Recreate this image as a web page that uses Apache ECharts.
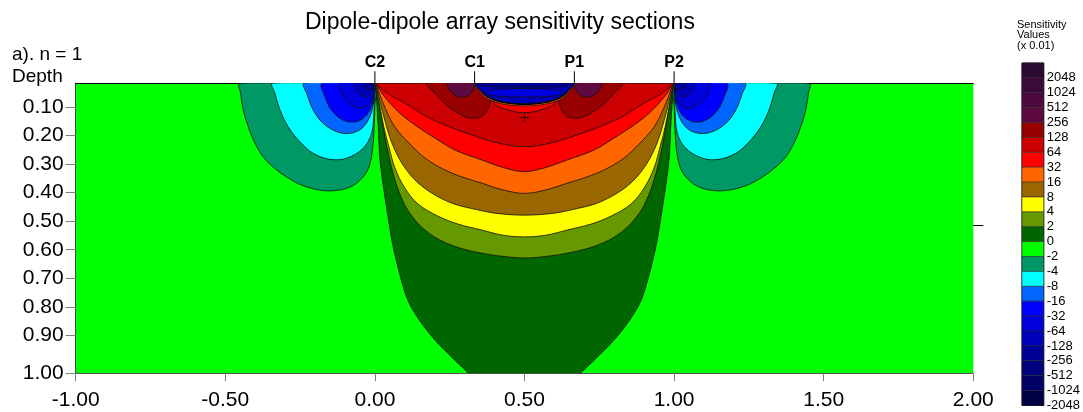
<!DOCTYPE html>
<html><head><meta charset="utf-8">
<script src="https://cdn.jsdelivr.net/npm/echarts@6/dist/echarts.min.js"></script>
<style>html,body{margin:0;padding:0;background:#fff}#c{width:1083px;height:412px}</style>
</head><body><div id="c"></div>
<script>
// ---------- axis / legend data ----------
const depthTickValues = [0.1,0.2,0.3,0.4,0.5,0.6,0.7,0.8,0.9,1.032];
const depthTickLabels = ['0.10','0.20','0.30','0.40','0.50','0.60','0.70','0.80','0.90','1.00'];
const depthTop = 0.018, depthBottom = 1.032;
const rightTickDepth = [0.514];
const levelLabels = ['2048','1024','512','256','128','64','32','16','8','4','2','0','-2','-4','-8','-16','-32','-64','-128','-256','-512','-1024','-2048'];
const levelColors = ['#2a0a30','#3c0a3a','#4c0a40','#5c0a40','#990000','#cc0000','#ff0000','#ff6600','#996600','#ffff00','#669900','#006600','#00ff00','#009966','#00ffff','#0066ff','#0000ff','#0000dd','#0000bb','#000099','#000080','#000066','#000044'];
const electrodeNames = ['C2','C1','P1','P2'];
const electrodeX = [0, 0.3333, 0.6667, 1];
const maxMarker = [[0.5, 0.138]];

// ---------- contour regions (x, depth) ----------
const negTealL = [[-0.451,0.018],[-0.449,0.052],[-0.440,0.112],[-0.423,0.171],[-0.401,0.227],[-0.373,0.276],[-0.340,0.311],[-0.295,0.346],[-0.240,0.376],[-0.173,0.393],[-0.117,0.391],[-0.074,0.376],[-0.040,0.346],[-0.020,0.311],[-0.008,0.251],[-0.003,0.181],[0,0.094],[0,0.018]];
const negTealR = [[1.451,0.018],[1.449,0.052],[1.440,0.112],[1.423,0.171],[1.401,0.227],[1.373,0.276],[1.340,0.311],[1.295,0.346],[1.240,0.376],[1.173,0.393],[1.117,0.391],[1.074,0.376],[1.040,0.346],[1.020,0.311],[1.008,0.251],[1.003,0.181],[1,0.094],[1,0.018]];
const negCyanL = [[-0.342,0.018],[-0.334,0.053],[-0.317,0.112],[-0.290,0.170],[-0.251,0.222],[-0.206,0.263],[-0.150,0.284],[-0.095,0.280],[-0.039,0.245],[-0.011,0.193],[-0.003,0.112],[0,0.030],[0,0.018]];
const negCyanR = [[1.342,0.018],[1.334,0.053],[1.317,0.112],[1.290,0.170],[1.251,0.222],[1.206,0.263],[1.150,0.284],[1.095,0.280],[1.039,0.245],[1.011,0.193],[1.003,0.112],[1,0.030],[1,0.018]];
const neg8L = [[-0.237,0.018],[-0.228,0.053],[-0.206,0.112],[-0.173,0.158],[-0.128,0.187],[-0.084,0.193],[-0.044,0.176],[-0.017,0.135],[-0.003,0.077],[0,0.024],[0,0.018]];
const neg8R = [[1.237,0.018],[1.228,0.053],[1.206,0.112],[1.173,0.158],[1.128,0.187],[1.084,0.193],[1.044,0.176],[1.017,0.135],[1.003,0.077],[1,0.024],[1,0.018]];
const neg16L = [[-0.176,0.018],[-0.167,0.065],[-0.145,0.112],[-0.106,0.147],[-0.061,0.152],[-0.028,0.129],[-0.008,0.088],[0,0.030],[0,0.018]];
const neg16R = [[1.176,0.018],[1.167,0.065],[1.145,0.112],[1.106,0.147],[1.061,0.152],[1.028,0.129],[1.008,0.088],[1,0.030],[1,0.018]];
const neg32L = [[-0.117,0.018],[-0.106,0.065],[-0.078,0.094],[-0.044,0.106],[-0.017,0.088],[-0.003,0.053],[0,0.024],[0,0.018]];
const neg32R = [[1.117,0.018],[1.106,0.065],[1.078,0.094],[1.044,0.106],[1.017,0.088],[1.003,0.053],[1,0.024],[1,0.018]];
const neg64L = [[-0.067,0.018],[-0.056,0.048],[-0.033,0.065],[-0.011,0.053],[0,0.024],[0,0.018]];
const neg64R = [[1.067,0.018],[1.056,0.048],[1.033,0.065],[1.011,0.053],[1,0.024],[1,0.018]];
const neg128L = [[-0.041,0.018],[-0.028,0.036],[-0.008,0.039],[0,0.021],[0,0.018]];
const neg128R = [[1.041,0.018],[1.028,0.036],[1.008,0.039],[1,0.021],[1,0.018]];

const pos0 = [[0,0.018],[0.003,0.042],[0.010,0.147],[0.017,0.286],[0.030,0.391],[0.043,0.479],[0.060,0.584],[0.084,0.689],[0.110,0.776],[0.144,0.839],[0.184,0.895],[0.215,0.932],[0.245,0.963],[0.284,1.003],[0.333,1.04],[0.667,1.04],[0.716,1.003],[0.755,0.963],[0.785,0.932],[0.816,0.895],[0.856,0.839],[0.890,0.776],[0.916,0.689],[0.940,0.584],[0.957,0.479],[0.970,0.391],[0.983,0.286],[0.990,0.147],[0.997,0.042],[1,0.018]];
const pos2 = [[0,0.018],[0.003,0.024],[0.020,0.122],[0.040,0.241],[0.067,0.356],[0.100,0.444],[0.134,0.496],[0.167,0.531],[0.217,0.566],[0.284,0.594],[0.357,0.612],[0.418,0.622],[0.5,0.629],[0.582,0.622],[0.643,0.612],[0.716,0.594],[0.783,0.566],[0.833,0.531],[0.866,0.496],[0.900,0.444],[0.933,0.356],[0.960,0.241],[0.980,0.122],[0.997,0.024],[1,0.018]];
const pos4 = [[0,0.018],[0.003,0.024],[0.030,0.171],[0.047,0.241],[0.067,0.314],[0.100,0.384],[0.144,0.440],[0.210,0.482],[0.277,0.510],[0.357,0.531],[0.428,0.549],[0.5,0.555],[0.572,0.549],[0.643,0.531],[0.723,0.510],[0.790,0.482],[0.856,0.440],[0.900,0.384],[0.933,0.314],[0.953,0.241],[0.970,0.171],[0.997,0.024],[1,0.018]];
const pos8 = [[0,0.018],[0.003,0.024],[0.033,0.147],[0.057,0.227],[0.090,0.297],[0.134,0.356],[0.190,0.402],[0.257,0.437],[0.324,0.456],[0.401,0.472],[0.5,0.479],[0.599,0.472],[0.676,0.456],[0.743,0.437],[0.810,0.402],[0.866,0.356],[0.910,0.297],[0.943,0.227],[0.967,0.147],[0.997,0.024],[1,0.018]];
const pos16 = [[0,0.018],[0.003,0.021],[0.033,0.101],[0.067,0.171],[0.114,0.227],[0.167,0.279],[0.234,0.321],[0.301,0.349],[0.357,0.367],[0.418,0.388],[0.5,0.403],[0.582,0.388],[0.643,0.367],[0.699,0.349],[0.766,0.321],[0.833,0.279],[0.886,0.227],[0.933,0.171],[0.967,0.101],[0.997,0.021],[1,0.018]];
const pos32 = [[0,0.018],[0.003,0.021],[0.033,0.066],[0.080,0.119],[0.134,0.164],[0.200,0.209],[0.267,0.251],[0.357,0.286],[0.434,0.314],[0.5,0.327],[0.566,0.314],[0.643,0.286],[0.733,0.251],[0.800,0.209],[0.866,0.164],[0.920,0.119],[0.967,0.066],[0.997,0.021],[1,0.018]];
const pos64 = [[0,0.018],[0.003,0.021],[0.050,0.059],[0.100,0.087],[0.170,0.133],[0.244,0.168],[0.317,0.196],[0.401,0.224],[0.5,0.240],[0.599,0.224],[0.683,0.196],[0.756,0.168],[0.830,0.133],[0.900,0.087],[0.950,0.059],[0.997,0.021],[1,0.018]];
const lobe128L = [[0.174,0.018],[0.201,0.053],[0.246,0.100],[0.302,0.135],[0.334,0.140],[0.357,0.134],[0.374,0.115],[0.384,0.087],[0.384,0.066],[0.364,0.049],[0.347,0.031],[0.337,0.018]];
const lobe128R = [[0.826,0.018],[0.799,0.053],[0.754,0.100],[0.698,0.135],[0.666,0.140],[0.643,0.134],[0.626,0.115],[0.616,0.087],[0.616,0.066],[0.636,0.049],[0.653,0.031],[0.663,0.018]];
const lobe256L = [[0.242,0.018],[0.251,0.042],[0.271,0.061],[0.294,0.066],[0.314,0.059],[0.327,0.042],[0.334,0.018]];
const lobe256R = [[0.758,0.018],[0.749,0.042],[0.729,0.061],[0.706,0.066],[0.686,0.059],[0.673,0.042],[0.666,0.018]];
const crescent = [[0.380,0.060],[0.401,0.091],[0.441,0.110],[0.5,0.121],[0.559,0.110],[0.599,0.091],[0.620,0.060],[0.615,0.018],[0.385,0.018]];
const rimOrange = [[0.333,0.018],[0.352,0.050],[0.381,0.075],[0.430,0.091],[0.5,0.097],[0.570,0.091],[0.619,0.075],[0.648,0.050],[0.667,0.018]];
const rimBlack = [[0.335,0.018],[0.354,0.048],[0.383,0.072],[0.431,0.088],[0.5,0.094],[0.569,0.088],[0.617,0.072],[0.646,0.048],[0.665,0.018]];
const negPocket = [[0.337,0.018],[0.356,0.045],[0.384,0.068],[0.431,0.083],[0.5,0.089],[0.569,0.083],[0.616,0.068],[0.644,0.045],[0.663,0.018]];
const negPocketLens = [[0.37,0.050],[0.40,0.040],[0.5,0.036],[0.60,0.040],[0.63,0.050],[0.60,0.062],[0.5,0.066],[0.40,0.062]];
const negPocketTop = [[0.345,0.018],[0.655,0.018],[0.64,0.028],[0.5,0.031],[0.36,0.028]];

// [points, colour index]
const regions = [
  [negTealL,13],[negTealR,13],[negCyanL,14],[negCyanR,14],[neg8L,15],[neg8R,15],
  [neg16L,16],[neg16R,16],[neg32L,17],[neg32R,17],[neg64L,18],[neg64R,18],[neg128L,19],[neg128R,19],
  [pos0,11],[pos2,10],[pos4,9],[pos8,8],[pos16,7],[pos32,6],[pos64,5],
  [lobe128L,4],[lobe128R,4],[lobe256L,3],[lobe256R,3],
  [crescent,6],[rimOrange,7],[rimBlack,-1],[negPocket,18],[negPocketLens,17],[negPocketTop,19]
];

const FONT = "'Liberation Sans', Arial, sans-serif";
const chart = echarts.init(document.getElementById('c'), null, {renderer:'canvas', width:1083, height:412});

chart.setOption({
  animation: false,
  backgroundColor: '#ffffff',
  title: {
    text: 'Dipole-dipole array sensitivity sections',
    left: 300, top: 6,
    textStyle: {fontFamily: FONT, fontSize: 23, fontWeight: 'normal', color: '#000'}
  },
  graphic: [
    {type:'text', left: 12, top: 45, style:{text:'a). n = 1', font:"19px 'Liberation Sans', Arial", fill:'#000'}},
    {type:'text', left: 12, top: 67, style:{text:'Depth', font:"19px 'Liberation Sans', Arial", fill:'#000'}},
    {type:'text', left: 1017, top: 19, style:{text:'Sensitivity\nValues\n(x 0.01)', font:"11px 'Liberation Sans', Arial", fill:'#000', lineHeight: 10.5}}
  ],
  grid: [
    {left: 75.7, right: 109.7, top: 83.3, bottom: 38.7, show: true, backgroundColor: levelColors[12], borderWidth: 0},
    {left: 1022, width: 22, top: 63, height: 343, show: true, borderColor: '#000', borderWidth: 1, backgroundColor: 'transparent'}
  ],
  xAxis: [
    {type:'value', gridIndex:0, min:-1, max:2, interval:0.5, position:'bottom',
     axisLine:{show:true, onZero:false, lineStyle:{color:'#555', width:1}},
     axisTick:{show:true, length:8, lineStyle:{color:'#808080'}},
     axisLabel:{formatter: v => v.toFixed(2), fontFamily: FONT, fontSize: 21, color:'#000', margin: 16},
     splitLine:{show:false}},
    {type:'value', gridIndex:0, min:-1, max:2, position:'top',
     axisLine:{show:true, onZero:false, lineStyle:{color:'#000', width:1}},
     axisTick:{show:false}, axisLabel:{show:false}, splitLine:{show:false}},
    {type:'value', gridIndex:1, min:0, max:1, show:false}
  ],
  yAxis: [
    {type:'value', gridIndex:0, min: depthTop, max: depthBottom, inverse: true,
     axisLine:{show:true, onZero:false, lineStyle:{color:'#444', width:1}},
     axisTick:{show:true, length:10, customValues: depthTickValues, lineStyle:{color:'#808080'}},
     axisLabel:{customValues: depthTickValues, fontFamily: FONT, fontSize: 21, color:'#000', margin: 12,
       formatter: v => { let b=0; depthTickValues.forEach((t,i)=>{ if(Math.abs(t-v)<Math.abs(depthTickValues[b]-v)) b=i; }); return depthTickLabels[b]; }},
     splitLine:{show:false}},
    {type:'value', gridIndex:1, min:0, max:levelLabels.length, position:'right',
     axisLine:{show:false}, axisTick:{show:false}, splitLine:{show:false},
     axisLabel:{customValues: levelLabels.map((_,i)=>i), fontFamily: FONT, fontSize: 13, color:'#000', margin: 3,
       formatter: v => levelLabels[levelLabels.length - 1 - Math.round(v)]}},
    {type:'value', gridIndex:0, min: depthTop, max: depthBottom, inverse: true, position:'right',
     axisLine:{show:false, onZero:false}, splitLine:{show:false}, axisLabel:{show:false},
     axisTick:{show:true, length:10, customValues: rightTickDepth, lineStyle:{color:'#000'}}}
  ],
  series: [
    {
      type:'custom', xAxisIndex:0, yAxisIndex:0, clip:true, silent:true,
      data: regions.map((r,i)=>[r[0][0][0], r[0][0][1], i]),
      encode:{x:0, y:1},
      renderItem: (params, api) => {
        const r = regions[params.dataIndex];
        const fill = r[1] < 0 ? '#000000' : levelColors[r[1]];
        return {type:'polygon', shape:{points: r[0].map(p => api.coord(p)), smooth: 0.35},
                style:{fill: fill, stroke: r[1] < 0 ? 'none' : '#111', lineWidth: 0.8}};
      }
    },
    {
      type:'scatter', xAxisIndex:0, yAxisIndex:0, silent:true, data: maxMarker,
      symbol:'path://M0,4.4L10,4.4L10,5.6L0,5.6Z M4.4,0L5.6,0L5.6,10L4.4,10Z', symbolSize: 9,
      itemStyle:{color:'#330000'}
    },
    {
      type:'custom', xAxisIndex:0, yAxisIndex:0, clip:false, silent:true,
      data: electrodeX.map((x,i)=>[x, depthTop, i]),
      encode:{x:0, y:1},
      renderItem: (params, api) => {
        const p = api.coord([electrodeX[params.dataIndex], depthTop]);
        return {type:'group', children:[
          {type:'line', shape:{x1:p[0], y1:p[1]-12, x2:p[0], y2:p[1]}, style:{stroke:'#000', lineWidth:1}},
          {type:'text', style:{text: electrodeNames[params.dataIndex], x:p[0], y:p[1]-21, align:'center', verticalAlign:'middle',
            font:"bold 16px 'Liberation Sans', Arial", fill:'#000'}}
        ]};
      }
    },
    {
      type:'custom', xAxisIndex:2, yAxisIndex:1, silent:true,
      data: levelColors.map((c,i)=>[0, levelColors.length - 1 - i, i]),
      encode:{x:0, y:1},
      renderItem: (params, api) => {
        const i = params.dataIndex, n = levelColors.length;
        const a = api.coord([0, n - i]), b = api.coord([1, n - 1 - i]);
        return {type:'rect', shape:{x:a[0], y:a[1], width:b[0]-a[0], height:b[1]-a[1]},
                style:{fill: levelColors[i], stroke:'#222', lineWidth:0.5}};
      }
    }
  ]
});
</script>
</body></html>
